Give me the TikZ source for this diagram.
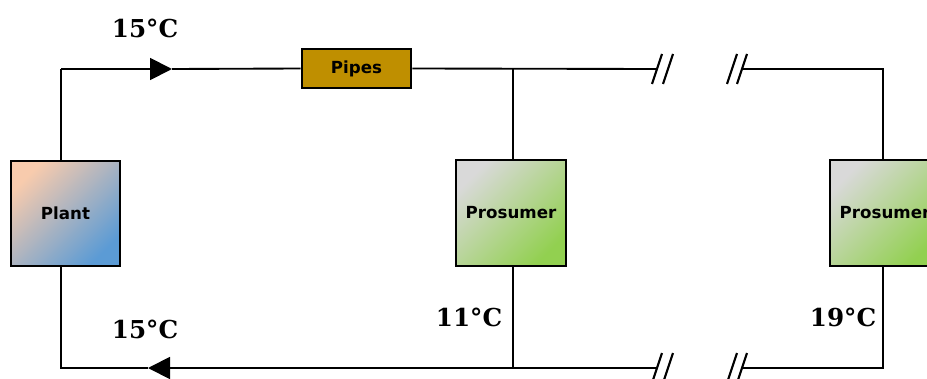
\documentclass[tikz,border=0pt]{standalone}
\usepackage{fontspec}
\setsansfont{DejaVu Sans}
\newfontfamily\tempfont{DejaVu Serif}
\usetikzlibrary{arrows.meta, calc, positioning}
\definecolor{plPeach}{HTML}{F8CBAD}
\definecolor{plBlue}{HTML}{5B9BD5}
\definecolor{psGrey}{HTML}{D9D9D9}
\definecolor{psGreen}{HTML}{92D050}
\definecolor{ppGold}{HTML}{BF8F00}
\tikzset{
  % pixel-like units, y grows downwards
  every picture/.append style = {line width=1.4pt},
  unitbox/.style   = {draw=black, line width=1.8pt, inner sep=0pt,
                      font=\sffamily\bfseries\fontsize{12.5}{14}\selectfont},
  plantbox/.style  = {unitbox, minimum width=82pt, minimum height=79pt,
                      top color=plPeach, bottom color=plBlue, shading angle=45},
  prosbox/.style   = {unitbox, minimum width=82.5pt, minimum height=79.5pt,
                      top color=psGrey, bottom color=psGreen, shading angle=45},
  pipebox/.style   = {unitbox, fill=ppGold, minimum width=82pt, minimum height=29pt},
  templbl/.style   = {font=\tempfont\bfseries\fontsize{18.5}{21}\selectfont, inner sep=0pt},
  flowarrow/.style = {-{Triangle[length=16.5pt, width=16.5pt]}},
  brk/.style       = {line width=1.6pt},
}

\begin{document}
\begin{tikzpicture}[x=0.75pt, y=-0.75pt]
  \useasboundingbox (0,0) rectangle (927,378);
  \clip (0,0) rectangle (927,378);
  % units
  \node[plantbox] (plant) at (65.5,213.5) {Plant};
  \node[pipebox]  (pipes) at (356.5,68.5) {Pipes};
  \node[prosbox]  (prosA) at (511,213) {Prosumer};
  \node[prosbox]  (prosB) at (885,213) {Prosumer};
  % corners and junctions
  \coordinate (tl) at (61,69);
  \coordinate (bl) at (61,368);
  \coordinate (jtop) at (513,69);
  \coordinate (jbot) at (513,368);
  \coordinate (tr) at (883,69);
  \coordinate (br) at (883,368);
  \coordinate (arrT) at (172,69);
  \coordinate (arrB) at (148,368);
  \coordinate (cutLt) at (656,69);
  \coordinate (cutRt) at (742,69);
  \coordinate (cutLb) at (656,368);
  \coordinate (cutRb) at (742,368);
  % supply line
  \draw (plant.north -| tl) -- (tl);
  \draw[flowarrow] (tl) -- (arrT);
  \draw (arrT) -- (pipes.west);
  \draw (pipes.east) -- (cutLt);
  \draw (jtop) -- (prosA.north -| jtop);
  \draw (cutRt) -- (tr) -- (prosB.north -| tr);
  % return line
  \draw (prosB.south -| br) -- (br) -- (cutRb);
  \draw (prosA.south -| jbot) -- (jbot);
  \draw (cutLb) -- (jbot);
  \draw[flowarrow] (jbot) -- (arrB);
  \draw (arrB) -- (bl) -- (plant.south -| bl);
  % break marks
  \foreach \bx in {657,668,732,742}
    \foreach \by in {69,368}
      \draw[brk] (\bx-5,\by+15) -- (\bx+5,\by-15);
  % temperatures
  \node[templbl] (tSup)  at (145,28)    {15°C};
  \node[templbl] (tRet)  at (145,329.5) {15°C};
  \node[templbl] (tProA) at (469,317.5) {11°C};
  \node[templbl] (tProB) at (843,317)   {19°C};
\end{tikzpicture}
\end{document}
